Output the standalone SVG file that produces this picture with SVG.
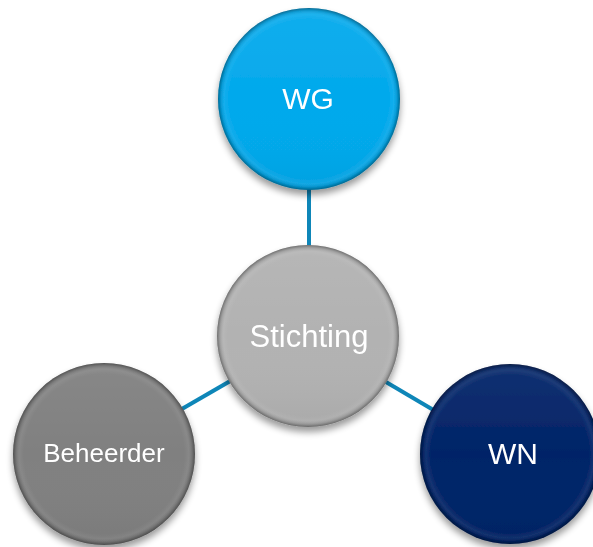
<svg xmlns="http://www.w3.org/2000/svg" width="593" height="547" viewBox="0 0 593 547">
  <defs>
    <style>
      .link { stroke: #0E86B8; stroke-width: 4; fill: none; }
      .label { fill: #FFFFFF; font-family: "Liberation Sans", Arial, sans-serif; text-anchor: middle; }
      .rim { fill: url(#rim); }
      .shine { fill: url(#shine); }
    </style>
    <filter id="shadow" x="-20%" y="-20%" width="140%" height="150%">
      <feGaussianBlur in="SourceAlpha" stdDeviation="3.5"/>
      <feOffset dx="0" dy="5" result="b"/>
      <feComponentTransfer><feFuncA type="linear" slope="0.4"/></feComponentTransfer>
      <feMerge><feMergeNode/><feMergeNode in="SourceGraphic"/></feMerge>
    </filter>
    <!-- darkened bevel edge with a faint light band inside it -->
    <radialGradient id="rim" cx="0.5" cy="0.5" r="0.5">
      <stop offset="0.88" stop-color="#fff" stop-opacity="0"/>
      <stop offset="0.93" stop-color="#fff" stop-opacity="0.06"/>
      <stop offset="0.97" stop-color="#000" stop-opacity="0.12"/>
      <stop offset="1" stop-color="#000" stop-opacity="0.38"/>
    </radialGradient>
    <!-- soft top highlight -->
    <linearGradient id="shine" x1="0" y1="0" x2="0" y2="1">
      <stop offset="0" stop-color="#fff" stop-opacity="0.06"/>
      <stop offset="0.5" stop-color="#fff" stop-opacity="0"/>
      <stop offset="1" stop-color="#000" stop-opacity="0.05"/>
    </linearGradient>
  </defs>

  <g id="connectors">
    <line class="link" x1="309" y1="150" x2="309" y2="300"/>
    <line class="link" x1="308" y1="336" x2="104" y2="454"/>
    <line class="link" x1="308" y1="336" x2="508" y2="454"/>
  </g>

  <g id="node-wg" filter="url(#shadow)">
    <circle cx="309" cy="99" r="91" fill="#03A9EC"/>
    <circle class="shine" cx="309" cy="99" r="91"/>
    <circle class="rim" cx="309" cy="99" r="91"/>
    <text class="label" x="308" y="109" font-size="30">WG</text>
  </g>

  <g id="node-stichting" filter="url(#shadow)">
    <circle cx="308" cy="336" r="91" fill="#B2B2B2"/>
    <circle class="shine" cx="308" cy="336" r="91"/>
    <circle class="rim" cx="308" cy="336" r="91"/>
    <text class="label" x="309" y="347" font-size="31">Stichting</text>
  </g>

  <g id="node-beheerder" filter="url(#shadow)">
    <circle cx="104" cy="454" r="91" fill="#808080"/>
    <circle class="shine" cx="104" cy="454" r="91"/>
    <circle class="rim" cx="104" cy="454" r="91"/>
    <text class="label" x="104" y="462" font-size="26">Beheerder</text>
  </g>

  <g id="node-wn" filter="url(#shadow)">
    <circle cx="510" cy="454" r="90" fill="#022468"/>
    <circle class="shine" cx="510" cy="454" r="90"/>
    <circle class="rim" cx="510" cy="454" r="90"/>
    <text class="label" x="513" y="464" font-size="30">WN</text>
  </g>
</svg>
